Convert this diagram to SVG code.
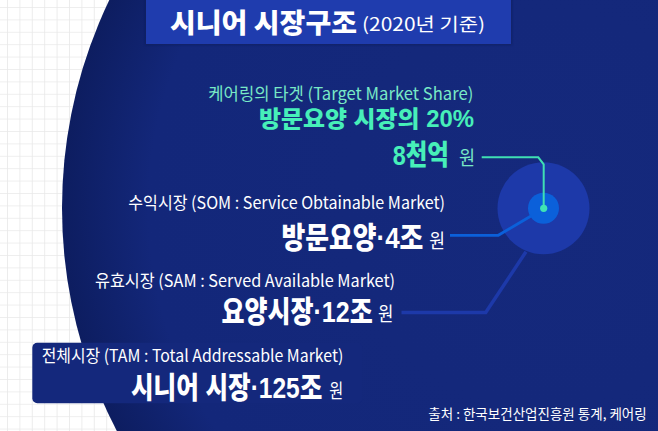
<svg xmlns="http://www.w3.org/2000/svg" width="658" height="431" viewBox="0 0 658 431">
<defs>
<pattern id="grid" x="7" y="7" width="12.4" height="12.4" patternUnits="userSpaceOnUse">
<path d="M0 0H12.4M0 0V12.4" stroke="#e9e9e9" stroke-width="1.6" fill="none"/>
</pattern>
<radialGradient id="bg" cx="543" cy="208" r="481" gradientUnits="userSpaceOnUse">
<stop offset="0" stop-color="#15297c"/>
<stop offset="0.82" stop-color="#13277a"/>
<stop offset="1" stop-color="#0d1d60"/>
</radialGradient>
<filter id="sh" x="-10%" y="-30%" width="120%" height="160%">
<feGaussianBlur stdDeviation="1.2"/>
</filter>
<style>
.k{font-family:"Noto Sans CJK KR","Noto Sans",sans-serif}
.kb{font-family:"Liberation Sans","Noto Sans CJK KR",sans-serif;font-weight:900}
.b{font-weight:900}
.w{fill:#ffffff}
.g{fill:#47efb9}
.gl{fill:#78e8c6}
.sm{font-size:17px;font-weight:400}
.won{font-family:"Noto Sans CJK KR",sans-serif;font-size:19px;font-weight:400}
.big{font-size:30px}
</style>
</defs>
<rect width="658" height="431" fill="#ffffff"/>
<rect width="658" height="431" fill="url(#grid)"/>
<g id="background-circle">
<circle cx="543" cy="208" r="481" fill="url(#bg)"/>
</g>
<g id="title">
<rect x="145" y="-6" width="367" height="51" fill="#0d1a55" opacity="0.6" filter="url(#sh)"/>
<rect x="146" y="-6" width="365" height="50" fill="#1f3cae"/>
<text x="170" y="33" class="k b w" font-size="27" textLength="187" lengthAdjust="spacingAndGlyphs">시니어 시장구조</text>
<text x="362" y="31" class="k w" font-size="18" textLength="123" lengthAdjust="spacingAndGlyphs">(2020년 기준)</text>
</g>
<g id="target-circles">
<circle cx="543.5" cy="208.3" r="46" fill="#1d39a9"/>
<circle cx="543.5" cy="208.3" r="15.5" fill="#0b60da"/>
</g>
<g id="connectors" fill="none" stroke-linejoin="miter">
<polyline points="401.5,312.5 485.7,312.5 526,251.7" stroke="#1d39a9" stroke-width="3.5"/>
<polyline points="450,235.3 498.3,235.3 531,216" stroke="#0b60da" stroke-width="2.8"/>
<polyline points="481.7,157.3 538.3,157.3 543.7,164.3 543.7,208" stroke="#3fdfb3" stroke-width="2"/>
<circle cx="543.7" cy="208.3" r="3.6" fill="#3fe3b5"/>
</g>
<g id="target-market">
<text x="473.3" y="100" text-anchor="end" class="k sm gl" textLength="265" lengthAdjust="spacingAndGlyphs">케어링의 타겟 (Target Market Share)</text>
<text transform="translate(474,126.5) scale(1.04,1)" text-anchor="end" class="kb g" font-size="23">방문요양 시장의 20%</text>
<text transform="translate(449,165) scale(0.84,1)" text-anchor="end" class="kb g" font-size="28">8천억</text>
<text transform="translate(475,164.5) scale(0.92,1)" text-anchor="end" class="won gl">원</text>
</g>
<g id="som">
<text x="445" y="208.5" text-anchor="end" class="k sm w" textLength="316.7" lengthAdjust="spacingAndGlyphs">수익시장 (SOM : Service Obtainable Market)</text>
<text transform="translate(423.3,248.3) scale(0.861,1)" text-anchor="end" class="kb big w">방문요양·4조</text>
<text transform="translate(445,247.5) scale(0.9,1)" text-anchor="end" class="won w">원</text>
</g>
<g id="sam">
<text x="395" y="287" text-anchor="end" class="k sm w" textLength="300" lengthAdjust="spacingAndGlyphs">유효시장 (SAM : Served Available Market)</text>
<text transform="translate(372.7,321.7) scale(0.834,1)" text-anchor="end" class="kb big w">요양시장·12조</text>
<text transform="translate(393.3,321) scale(0.88,1)" text-anchor="end" class="won w">원</text>
</g>
<g id="tam">
<rect x="32.3" y="342.7" width="330" height="60.6" rx="5" fill="#14287c"/>
<text x="343.3" y="362" text-anchor="end" class="k sm w" textLength="301.6" lengthAdjust="spacingAndGlyphs">전체시장 (TAM : Total Addressable Market)</text>
<text transform="translate(322.3,398.3) scale(0.818,1)" text-anchor="end" class="kb big w">시니어 시장·125조</text>
<text transform="translate(343.3,397.5) scale(0.8,1)" text-anchor="end" class="won w">원</text>
</g>
<g id="source">
<text x="646.7" y="419" text-anchor="end" class="k w" font-size="13.5" textLength="218.4" lengthAdjust="spacingAndGlyphs">출처 : 한국보건산업진흥원 통계, 케어링</text>
</g>
</svg>
